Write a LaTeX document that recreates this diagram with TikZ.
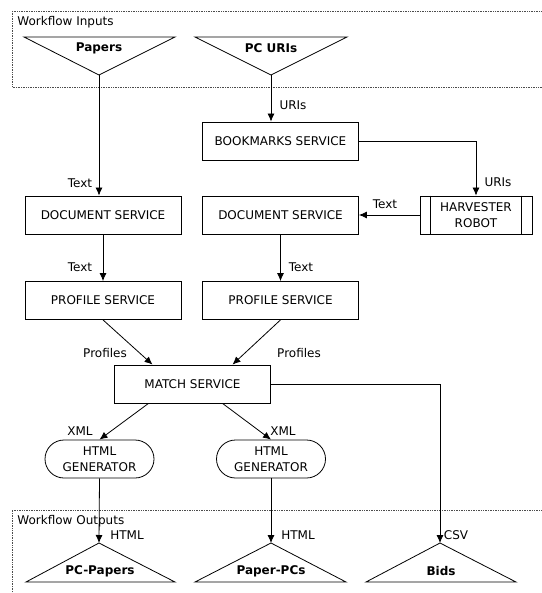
\documentclass[tikz,border=0pt]{standalone}
\usepackage{fontspec}
\setmainfont{DejaVu Sans}
\usetikzlibrary{arrows.meta,shapes.misc}
\begin{document}
\begin{tikzpicture}[x=1pt,y=-1pt,
  font=\fontsize{12}{16}\selectfont,
  line width=0.8pt,
  svc/.style={draw, rectangle, minimum width=156pt, minimum height=38pt, inner sep=0pt},
  robot/.style={draw, rectangle, minimum width=112pt, minimum height=38pt, inner sep=0pt, align=center},
  gen/.style={draw, rounded rectangle, minimum width=109pt, minimum height=38pt, inner sep=0pt, align=center},
  arr/.style={-{Latex[length=8pt,width=7pt]}},
  lbl/.style={inner sep=0pt},
  ttl/.style={inner sep=0pt, font=\fontsize{12}{14}\selectfont\bfseries},
  grp/.style={draw=black!70, densely dotted, line width=0.7pt}
]
\useasboundingbox (0,0) rectangle (541,593);
% group frames
\draw[grp] (12,11) -- (560,11) (12,11) -- (12,87) -- (560,87);
\node[lbl, anchor=west] (inlbl) at (17,22) {Workflow Inputs};
\draw[grp] (560,510) -- (12,510) -- (12,600);
\node[lbl, anchor=west] (outlbl) at (17,521) {Workflow Outputs};

% input triangles
\draw (24,37) -- (175,37) -- (99,75) -- cycle;
\node[ttl] (papers) at (99,48) {Papers};
\coordinate (papersTip) at (99,75);
\draw (195,37) -- (347,37) -- (271,75) -- cycle;
\node[ttl] (pcuris) at (271,48) {PC URIs};
\coordinate (pcurisTip) at (271,75);

% services
\node[svc] (bookmarks) at (280.5,141) {BOOKMARKS SERVICE};
\node[svc] (doc1) at (103,215) {DOCUMENT SERVICE};
\node[svc] (doc2) at (280.5,215) {DOCUMENT SERVICE};
\node[robot] (robot) at (476,215) {HARVESTER\\ROBOT};
\draw ([xshift=11pt]robot.north west) -- ([xshift=11pt]robot.south west);
\draw ([xshift=-11pt]robot.north east) -- ([xshift=-11pt]robot.south east);
\node[svc] (prof1) at (103,300.5) {PROFILE SERVICE};
\node[svc] (prof2) at (280.5,300.5) {PROFILE SERVICE};
\node[svc] (match) at (192.5,384) {MATCH SERVICE};
\node[gen] (gen1) at (99.5,459) {HTML\\GENERATOR};
\node[gen] (gen2) at (271,459) {HTML\\GENERATOR};

% output triangles
\draw (26,582) -- (175,582) -- (99,543) -- cycle;
\node[ttl] (pcpapers) at (100,571) {PC-Papers};
\coordinate (pcpapersTip) at (99,543);
\draw (195,582) -- (346,582) -- (271,543) -- cycle;
\node[ttl] (paperpcs) at (271,571) {Paper-PCs};
\coordinate (paperpcsTip) at (271,543);
\draw (366,582) -- (516,582) -- (440,543) -- cycle;
\node[ttl] (bids) at (441,571) {Bids};
\coordinate (bidsTip) at (440,543);

% connectors
\draw[arr] (papersTip) -- (papersTip |- doc1.north);
\draw[arr] (pcurisTip) -- (pcurisTip |- bookmarks.north);
\draw[arr] (bookmarks.east) -| (robot.north);
\draw[arr] (robot.west) -- (doc2.east);
\draw[arr] (doc1.south) -- (prof1.north);
\draw[arr] (doc2.south) -- (prof2.north);
\draw[arr] (prof1.south) -- ([xshift=-40pt]match.north);
\draw[arr] (prof2.south) -- ([xshift=40pt]match.north);
\draw[arr] ([xshift=-44pt]match.south) -- (gen1.north);
\draw[arr] ([xshift=30pt]match.south) -- (gen2.north);
\draw[arr] (gen1.south) -- (pcpapersTip);
\draw[arr] (gen2.south) -- (paperpcsTip);
\draw[arr] (match.east) -| (bidsTip);

% labels
\node[lbl] (l1) at (80,183) {Text};
\node[lbl] (l2) at (293,105) {URIs};
\node[lbl] (l3) at (498,182) {URIs};
\node[lbl] (l4) at (385,204) {Text};
\node[lbl] (l5) at (80,267) {Text};
\node[lbl] (l6) at (301,267) {Text};
\node[lbl] (l7) at (105,353) {Profiles};
\node[lbl] (l8) at (299,353) {Profiles};
\node[lbl] (l9) at (80,431) {XML};
\node[lbl] (l10) at (283,431) {XML};
\node[lbl] (l11) at (127,535) {HTML};
\node[lbl] (l12) at (298,535) {HTML};
\node[lbl] (l13) at (456,535) {CSV};
\end{tikzpicture}
\end{document}
